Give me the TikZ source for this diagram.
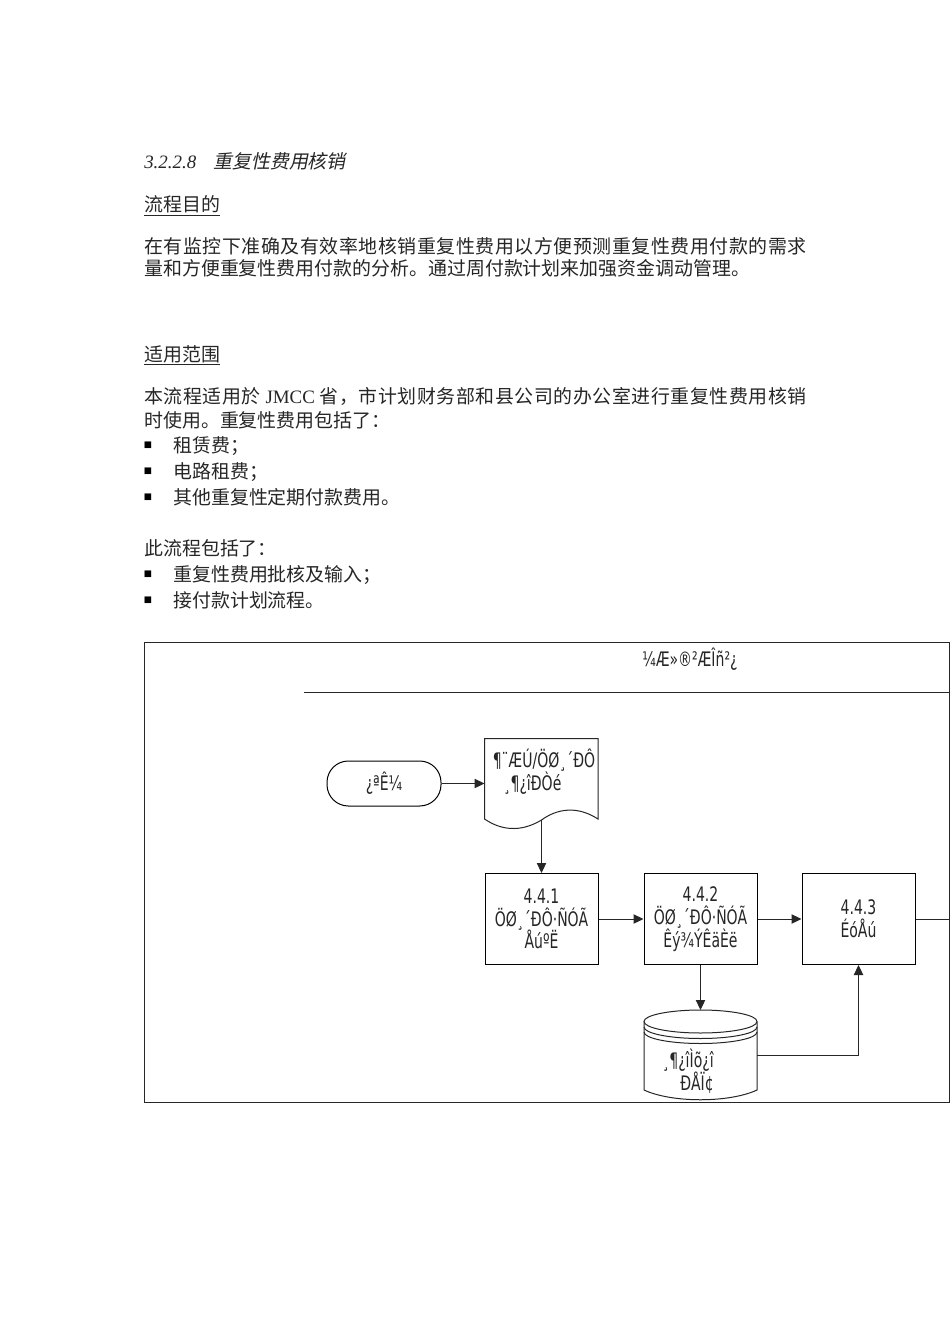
\documentclass[tikz,border=0pt]{standalone}
\usepackage{fontspec}
\usepackage{tikz}
\usetikzlibrary{arrows.meta}
\usetikzlibrary{positioning}
\setmainfont{Liberation Serif}
\newfontfamily\cjk{Noto Sans CJK SC}
\newfontfamily\cjkj[LetterSpace=3]{Noto Sans CJK SC}
\newfontfamily\cjkit[FakeSlant=0.2]{Noto Sans CJK SC}
\newfontfamily\flowfont[FakeStretch=0.7]{DejaVu Sans}
\newfontfamily\bulletfont{DejaVu Sans}
\tikzset{
	txt/.style={anchor=base west,inner sep=0pt,text=black!85,font=\fontsize{14.2}{17}\selectfont\cjk},
	justtxt/.style={txt,font=\fontsize{14.2}{17}\selectfont\cjkj},
	bulletmark/.style={anchor=center,inner sep=0pt,font=\fontsize{6.5}{8}\selectfont\bulletfont},
	flowtxt/.style={align=center,inner sep=0pt,text=black!85,font=\fontsize{15}{17}\selectfont\flowfont},
	flowbox/.style={flowtxt,rectangle,draw,line width=.75pt,minimum width=84.75pt,minimum height=68.25pt},
	startbox/.style={flowtxt,rectangle,rounded corners=16pt,draw,line width=.75pt,minimum width=85.5pt,minimum height=33.75pt},
	plain/.style={flowtxt,minimum width=84.75pt},
	flowline/.style={draw,line width=.75pt,black!85},
	flowarrow/.style={flowline,-{Triangle[length=7.5pt,width=7pt]}}
}
\begin{document}
\begin{tikzpicture}[x=.75pt,y=-.75pt]
	\useasboundingbox (0,0) rectangle (950,1344);
	\fill[white] (0,0) rectangle (950,1344);

	\node[txt,font=\fontsize{14.2}{17}\selectfont\itshape] (secno) at (144,169) {3.2.2.8};
	\node[txt,font=\fontsize{14.2}{17}\selectfont\cjkit] (sectitle) at (213,169) {重复性费用核销};
	\node[txt] (head1) at (144,212) {\underline{流程目的}};
	\node[justtxt] (p1a) at (144,254) {在有监控下准确及有效率地核销重复性费用以方便预测重复性费用付款的需求};
	\node[txt] (p1b) at (144,276) {量和方便重复性费用付款的分析。通过周付款计划来加强资金调动管理。};
	\node[txt] (head2) at (144,361) {\underline{适用范围}};
	\node[justtxt] (p2a) at (144,403) {本流程适用於 {\rmfamily JMCC} 省，市计划财务部和县公司的办公室进行重复性费用核销};
	\node[txt] (p2b) at (144,427) {时使用。重复性费用包括了：};
	\node[txt] (p3) at (144,555) {此流程包括了：};

	\foreach \name/\ypos/\body in
	{l1/452/租赁费；, l2/478/电路租费；, l3/504/其他重复性定期付款费用。, l4/581/重复性费用批核及输入；, l5/607/接付款计划流程。}
	{
		\node[txt] (\name) at (173,\ypos) {\body};
		\node[bulletmark] (b\name) at (148,\ypos-7) {■};
	}

	\draw[line width=.75pt,black!85] (144,642.5) rectangle (949.5,1102.5);
	\coordinate (headl) at (304,692);
	\coordinate (headr) at (950,692);
	\draw[flowline] (headl) -- (headr);
	\node[flowtxt] (dept) at (690,659) {¼Æ»®²ÆÎñ²¿};

	\node[startbox] (start) at (384,783.5) {¿ªÊ¼};
	\node[plain,minimum height=51pt] (doc) at (541.5,772) {\hspace*{.25em}¶¨ÆÚ/ÖØ¸´ÐÔ\\¸¶¿îÐÒé\hspace*{.9em}};
	\draw[flowline] (484.5,819) -- (484.5,738.5) -- (598,738.5) -- (598,819)
		.. controls (578,806) and (558,808) .. (541.5,820)
		.. controls (525,830) and (505,833) .. (484.5,819);
	\coordinate (docin) at (484.5,783.5);
	\coordinate (docout) at (541.5,820);

	\node[flowbox] (n1) at (541.5,919) {4.4.1\\ÖØ¸´ÐÔ·ÑÓÃ\\ÅúºË};
	\node[flowbox] (n2) at (700.5,919) {4.4.2\\ÖØ¸´ÐÔ·ÑÓÃ\\Êý¾ÝÊäÈë};
	\node[flowbox] (n3) at (858.5,919) {4.4.3\\ÉóÅú};

	\node[plain,minimum height=42pt] (info) at (700.5,1071) {¸¶¿îÌõ¿î\hspace*{1.25em}\\ÐÅÏ¢\hspace*{.35em}};
	\draw[flowline] (644,1021.5) -- (644,1090)
		.. controls (672,1103) and (729,1103) .. (757,1090) -- (757,1021.5);
	\draw[flowline] (700.5,1021.5) ellipse [x radius=56.5,y radius=11.5];
	\draw[flowline] (644,1027) arc [start angle=180,end angle=0,x radius=56.5,y radius=11.5];
	\draw[flowline] (644,1032) arc [start angle=180,end angle=0,x radius=56.5,y radius=11.5];
	\coordinate (infotop) at (700.5,1010);
	\coordinate (inforight) at (757,1055);
	\coordinate (edge) at (949.5,919);

	\draw[flowarrow] (start) -- (docin);
	\foreach \from/\to in
	{docout/n1, n1/n2, n2/n3}
	\draw[flowarrow] (\from) -- (\to);
	\draw[flowarrow] (n2) -- (infotop);
	\draw[flowarrow] (inforight) -| (n3);
	\draw[flowline] (n3) -- (edge);
\end{tikzpicture}
\end{document}
